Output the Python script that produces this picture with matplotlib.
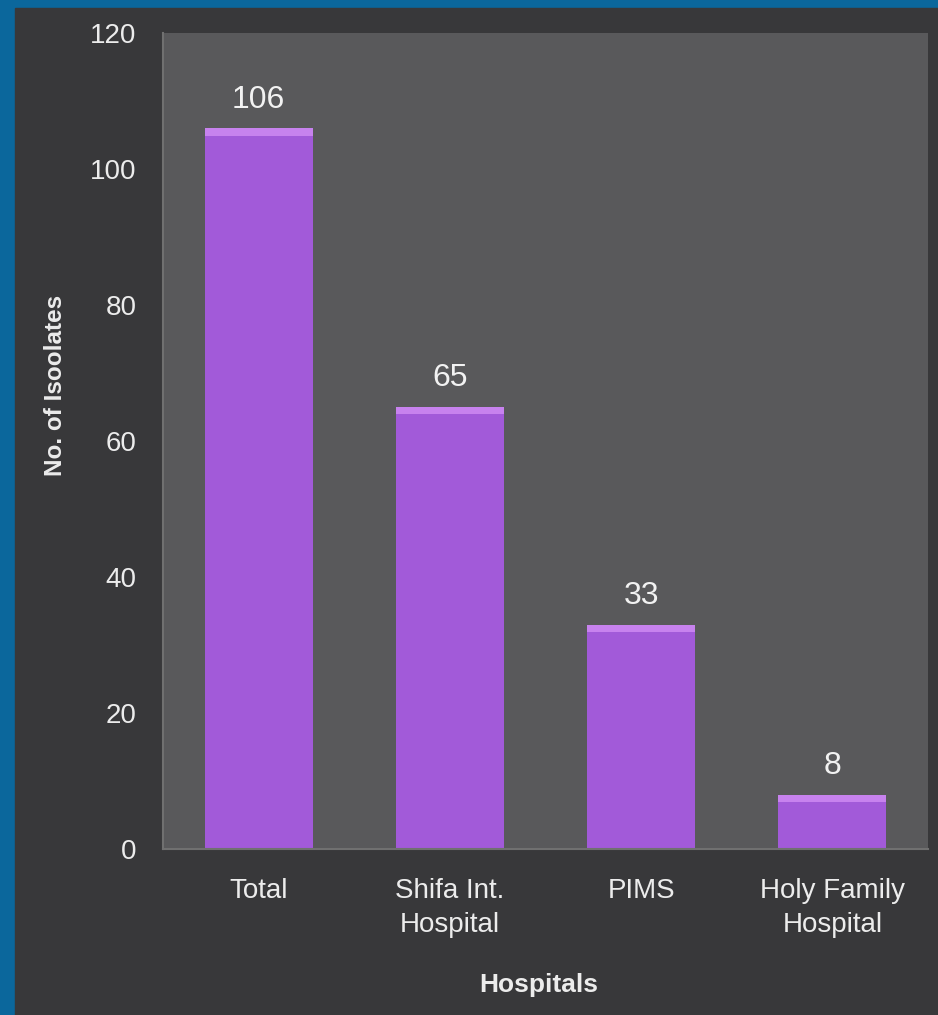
import matplotlib.pyplot as plt
from matplotlib.patches import Rectangle

hospitals = ['Total', 'Shifa Int.\nHospital', 'PIMS', 'Holy Family\nHospital']
isolates = [106, 65, 33, 8]
y_ticks = [0, 20, 40, 60, 80, 100, 120]

plt.rcParams['font.family'] = ['Liberation Sans', 'DejaVu Sans']

fig = plt.figure(figsize=(9.38, 10.15), dpi=100, facecolor='#0b679c')
# dark slide panel inside the blue frame
panel = Rectangle((15 / 938, 0), 1, (1015 - 8) / 1015,
                  transform=fig.transFigure, color='#38383a', zorder=-10)
fig.add_artist(panel)

ax = fig.add_axes([163 / 938, 1 - 849 / 1015, (928 - 163) / 938, (849 - 33) / 1015])
ax.set_facecolor('#59595b')

x = range(len(hospitals))
ax.bar(x, isolates, width=0.565, color='#a25ad9', zorder=2)
# bevel highlight at top of each bar
ax.bar(x, [1.1] * len(isolates), bottom=[v - 1.1 for v in isolates], width=0.565,
       color='#c782ee', zorder=3)

for xi, v in zip(x, isolates):
    ax.text(xi, v + 2.0, str(v), ha='center', va='bottom', color='#f2f2f2', fontsize=23)

ax.set_xlim(-0.5, len(hospitals) - 0.5)
ax.set_ylim(0, 120)
ax.set_yticks(y_ticks)
ax.set_xticks(list(x))
ax.set_xticklabels(hospitals, linespacing=1.4)
ax.tick_params(axis='both', length=0, colors='#ececec', labelsize=20)
ax.tick_params(axis='y', pad=19)
ax.tick_params(axis='x', pad=21)

for s in ['top', 'right']:
    ax.spines[s].set_visible(False)
for s in ['left', 'bottom']:
    ax.spines[s].set_color('#707070')
    ax.spines[s].set_linewidth(1.5)

fig.text(55 / 938, 1 - 385 / 1015, 'No. of Isoolates', rotation=90, ha='center', va='center',
         color='#ececec', fontsize=17.5, fontweight='bold')
fig.text(539 / 938, 1 - 985 / 1015, 'Hospitals', ha='center', va='center',
         color='#ececec', fontsize=19, fontweight='bold')

fig.savefig('out.png', dpi=100, facecolor=fig.get_facecolor())
